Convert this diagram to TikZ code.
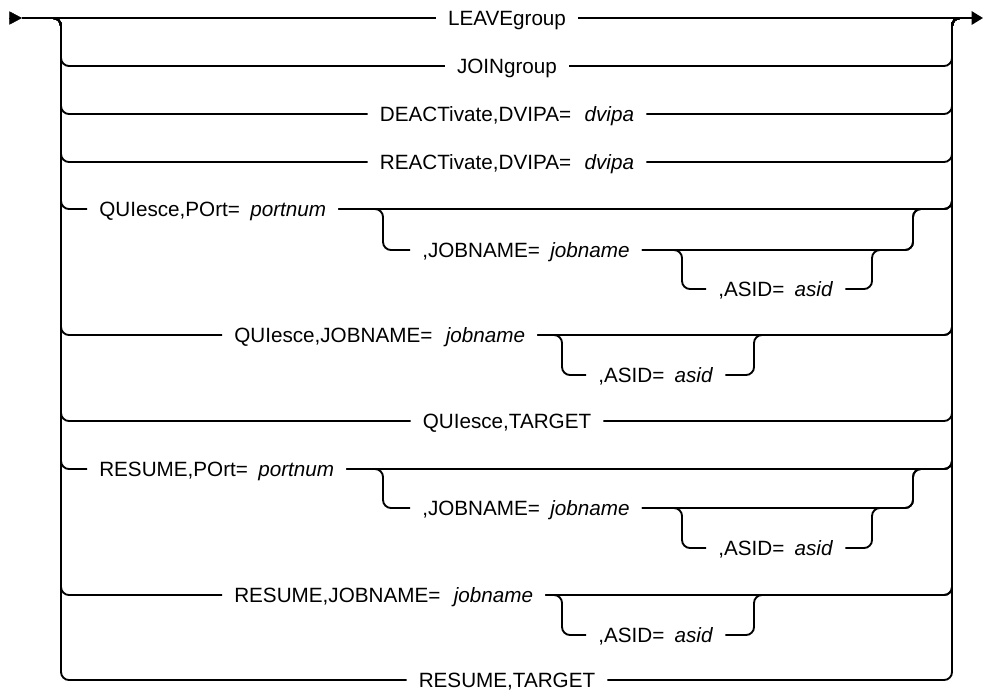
\documentclass[tikz,border=0pt]{standalone}
\usepackage{fontspec}
\setmainfont{Liberation Sans}
\usetikzlibrary{arrows.meta}
\tikzset{rail/.style={line width=1.4pt,rounded corners=6pt}}
\tikzset{kw/.style={inner xsep=9pt,inner ysep=0pt,text height=11.1pt,text depth=0pt,font=\fontsize{15.5}{18}\selectfont}}
\tikzset{kwl/.style={kw,anchor=west}}
\newcommand{\param}[1]{\hspace{.5em}\textit{#1}}
\newcommand{\wparam}[1]{\hspace{.65em}\textit{#1}}

\begin{document}
\begin{tikzpicture}[x=0.75pt,y=-0.75pt,node distance=36pt]
          \useasboundingbox (0,0) rectangle (984,690);
          \coordinate (s0) at (10,18); \coordinate (start) at (22,18);
          \coordinate (fin) at (972,18); \coordinate (tip) at (983,18);
          \coordinate (L) at (61,0); \coordinate (R) at (952,0);
          \coordinate (jl) at (383,0); \coordinate (jr) at (913,0);
          \coordinate (al) at (682,0); \coordinate (ar) at (872,0);
          \coordinate (bl) at (562,0); \coordinate (br) at (754,0);
          % the alternatives
          \node[kw] (leave) at (507,18) {LEAVEgroup};
          \node[kw] (join) [below of=leave] {JOINgroup};
          \node[kw] (deact) [below of=join] {DEACTivate,DVIPA=\wparam{dvipa}};
          \node[kw] (react) [below of=deact] {REACTivate,DVIPA=\wparam{dvipa}};
          \node[kwl] (qport) at (87,209) {QUIesce,POrt=\param{portnum}};
          \node[kwl] (qpjob) at (410,250) {,JOBNAME=\param{jobname}};
          \node[kwl] (qpasid) at (706,289) {,ASID=\param{asid}};
          \node[kwl] (qjob) at (222,335) {QUIesce,JOBNAME=\wparam{jobname}};
          \node[kwl] (qjasid) at (586,375) {,ASID=\param{asid}};
          \node[kw] (qtgt) at (507,421) {QUIesce,TARGET};
          \node[kwl] (rport) at (87,469) {RESUME,POrt=\param{portnum}};
          \node[kwl] (rpjob) at (410,508) {,JOBNAME=\param{jobname}};
          \node[kwl] (rpasid) at (706,548) {,ASID=\param{asid}};
          \node[kwl] (rjob) at (222,595) {RESUME,JOBNAME=\wparam{jobname}};
          \node[kwl] (rjasid) at (586,635) {,ASID=\param{asid}};
          \node[kw] (rtgt) at (507,680) {RESUME,TARGET};
          % main line
          \draw[-{Triangle[length=9.5pt,width=10pt]}] (s0) -- (start);
          \draw[rail] (start) -- (leave.west);
          \draw[rail,-{Triangle[length=8.5pt,width=10pt]}] (leave.east) -- (tip);
          \foreach \n in {join,deact,react,qport,qjob,qtgt,rport,rjob,rtgt} {
            \draw[rail] (start) -| (L |- \n.west) -- (\n.west);
            \draw[rail] (\n.east) -| (R |- fin) -- (fin);
          }
          % optional JOBNAME and ASID
          \foreach \m/\j/\a in {qport/qpjob/qpasid,rport/rpjob/rpasid} {
            \draw[rail] (\m.east) -| (jl |- \j.west) -- (\j.west);
            \draw[rail] (\j.east) -| (jr |- \m.east) -| (R |- fin) -- (fin);
            \draw[rail] (\j.east) -| (al |- \a.west) -- (\a.west);
            \draw[rail] (\a.east) -| (ar |- \j.east) -| (jr |- \m.east) -| (R |- fin) -- (fin);
          }
          \foreach \m/\a in {qjob/qjasid,rjob/rjasid} {
            \draw[rail] (\m.east) -| (bl |- \a.west) -- (\a.west);
            \draw[rail] (\a.east) -| (br |- \m.east) -| (R |- fin) -- (fin);
          }
        \end{tikzpicture}
\end{document}
